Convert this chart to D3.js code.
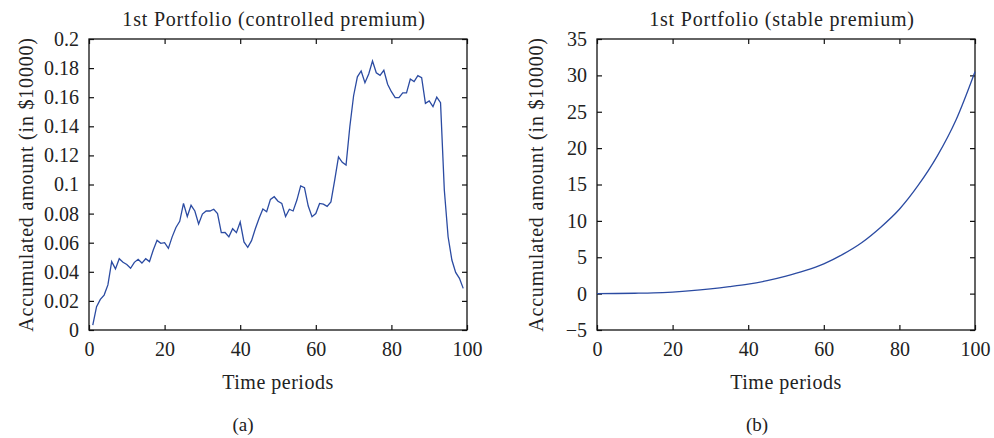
<!DOCTYPE html>
<html>
<head>
<meta charset="utf-8">
<script src="https://cdn.jsdelivr.net/npm/d3@7"></script>
<style>
  body { margin: 0; background: #fff; }
  text { font-family: "Liberation Serif", serif; fill: #222; }
</style>
</head>
<body>
<script>
// panel (a): controlled premium, periods 1..99
var controlledPeriods = d3.range(1, 100);
var controlledValues = [
  0.0034, 0.016, 0.021, 0.024, 0.031, 0.047, 0.042, 0.049, 0.0465, 0.045,
  0.0424, 0.0465, 0.0486, 0.046, 0.049, 0.047, 0.055, 0.0616, 0.0596, 0.060,
  0.0561, 0.064, 0.0705, 0.0747, 0.087, 0.078, 0.0857, 0.0818, 0.0729, 0.0797,
  0.0818, 0.0818, 0.083, 0.080, 0.0669, 0.067, 0.064, 0.0696, 0.0669, 0.0742,
  0.0605, 0.0568, 0.0614, 0.0696, 0.0768, 0.0832, 0.0813, 0.0898, 0.0916, 0.0885,
  0.087, 0.078, 0.083, 0.0818, 0.0893, 0.099, 0.0978, 0.0852, 0.0779, 0.080,
  0.087, 0.0865, 0.085, 0.088, 0.103, 0.119, 0.1152, 0.1134, 0.1397, 0.161,
  0.174, 0.178, 0.170, 0.176, 0.1849, 0.1768, 0.175, 0.1785, 0.1689, 0.1638,
  0.1597, 0.1597, 0.163, 0.163, 0.1725, 0.1707, 0.1748, 0.1734, 0.1558, 0.1574,
  0.1535, 0.160, 0.1562, 0.0962, 0.0641, 0.0481, 0.0396, 0.0355, 0.0286
];

// panel (b): stable premium, read every 5 periods
var stablePeriods = [0, 5, 10, 15, 20, 25, 30, 35, 40, 45, 50, 55, 60, 65, 70, 75, 80, 85, 90, 95, 100];
var stableValues = [0, 0.02, 0.05, 0.1, 0.22, 0.4, 0.65, 0.95, 1.3, 1.78, 2.4, 3.15, 4.1, 5.4, 7.0, 9.1, 11.6, 14.9, 18.9, 23.9, 30.5];

var xTicks = [0, 20, 40, 60, 80, 100];
var yTicksA = [0, 0.02, 0.04, 0.06, 0.08, 0.1, 0.12, 0.14, 0.16, 0.18, 0.2];
var yTicksB = [-5, 0, 5, 10, 15, 20, 25, 30, 35];

var titles = ["1st Portfolio (controlled premium)", "1st Portfolio (stable premium)"];
var captions = ["(a)", "(b)"];

function main() {
  var W = 994, H = 438;
  var svg = d3.select("body").append("svg").attr("width", W).attr("height", H);

  var panels = [
    { left: 89, periods: controlledPeriods, values: controlledValues, yDomain: [0, 0.2], yTicks: yTicksA,
      fmt: function(d) { return String(+d.toFixed(2)); }, labelX: 26, caption: 243 },
    { left: 597, periods: stablePeriods, values: stableValues, yDomain: [-5, 35], yTicks: yTicksB,
      fmt: d3.format("d"), labelX: 536, caption: 757 }
  ];

  var plotTop = 39, plotBottom = 330, pw = 378, tl = 5;

  panels.forEach(function(p, k) {
    var g = svg.append("g");
    var x = d3.scaleLinear().domain([0, 100]).range([p.left, p.left + pw]);
    var y = d3.scaleLinear().domain(p.yDomain).range([plotBottom, plotTop]);

    g.append("g").attr("transform", "translate(0," + plotBottom + ")")
      .call(d3.axisBottom(x).tickValues(xTicks).tickSize(-tl).tickPadding(12))
      .call(styleAxis);
    g.append("g").attr("transform", "translate(0," + plotTop + ")")
      .call(d3.axisTop(x).tickValues(xTicks).tickSize(-tl).tickFormat(""))
      .call(styleAxis);
    g.append("g").attr("transform", "translate(" + p.left + ",0)")
      .call(d3.axisLeft(y).tickValues(p.yTicks).tickSize(-tl).tickPadding(10).tickFormat(p.fmt))
      .call(styleAxis);
    g.append("g").attr("transform", "translate(" + (p.left + pw) + ",0)")
      .call(d3.axisRight(y).tickValues(p.yTicks).tickSize(-tl).tickFormat(""))
      .call(styleAxis);

    g.append("rect")
      .attr("x", p.left).attr("y", plotTop).attr("width", pw).attr("height", plotBottom - plotTop)
      .attr("fill", "none").attr("stroke", "#111").attr("stroke-width", 1.3);

    var line = d3.line()
      .x(function(d, i) { return x(p.periods[i]); })
      .y(function(d) { return y(d); });
    if (k === 1) line.curve(d3.curveMonotoneX);

    g.append("path").datum(p.values)
      .attr("d", line)
      .attr("fill", "none")
      .attr("stroke", "#2b4ba2")
      .attr("stroke-width", 1.3);

    g.append("text").attr("x", p.left + pw / 2 - 4).attr("y", 26)
      .attr("text-anchor", "middle").style("font-size", "20px").style("letter-spacing", "0.8px")
      .text(titles[k]);
    g.append("text").attr("x", p.left + pw / 2).attr("y", 389)
      .attr("text-anchor", "middle").style("font-size", "20px").style("letter-spacing", "0.5px")
      .text("Time periods");
    g.append("text").attr("x", p.caption).attr("y", 431)
      .attr("text-anchor", "middle").style("font-size", "19px").text(captions[k]);
    g.append("text")
      .attr("transform", "translate(" + p.labelX + "," + (plotTop + plotBottom) / 2 + ") rotate(-90)")
      .attr("text-anchor", "middle").attr("dy", "0.35em")
      .style("font-size", "20px").style("letter-spacing", "0.8px")
      .text("Accumulated amount (in $10000)");
  });
}

function styleAxis(sel) {
  sel.select(".domain").remove();
  sel.selectAll(".tick line").attr("stroke", "#111").attr("stroke-width", 1.2);
  sel.selectAll(".tick text").style("font-size", "20px").attr("fill", "#222")
    .style("font-family", "'Liberation Serif', serif");
}

main();
</script>
</body>
</html>
